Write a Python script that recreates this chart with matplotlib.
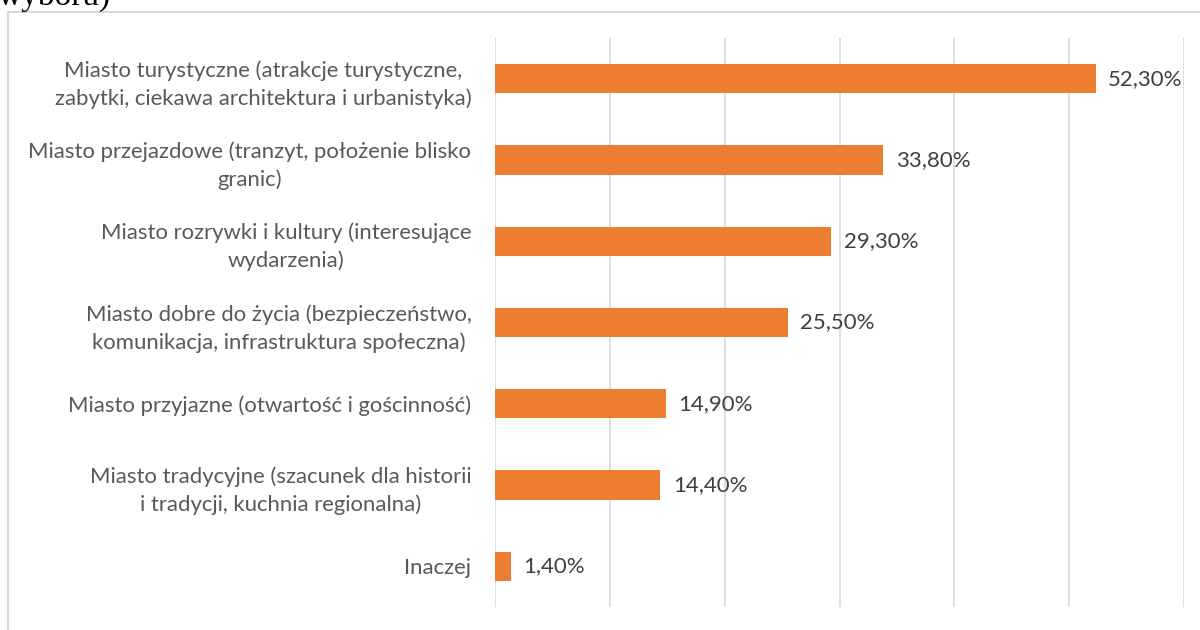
import matplotlib
matplotlib.use("Agg")
import matplotlib.pyplot as plt
from matplotlib.patches import Rectangle

categories = [
    "Miasto turystyczne (atrakcje turystyczne,\nzabytki, ciekawa architektura i urbanistyka)",
    "Miasto przejazdowe (tranzyt, położenie blisko\ngranic)",
    "Miasto rozrywki i kultury (interesujące\nwydarzenia)",
    "Miasto dobre do życia (bezpieczeństwo,\nkomunikacja, infrastruktura społeczna)",
    "Miasto przyjazne (otwartość i gościnność)",
    "Miasto tradycyjne (szacunek dla historii\ni tradycji, kuchnia regionalna)",
    "Inaczej",
]
values = [52.3, 33.8, 29.3, 25.5, 14.9, 14.4, 1.4]
value_labels = ["52,30%", "33,80%", "29,30%", "25,50%", "14,90%", "14,40%", "1,40%"]

FONT = ["Lato", "DejaVu Sans"]
TXT = "#595959"

fig = plt.figure(figsize=(12, 6.3), dpi=100)
fig.patch.set_facecolor("white")

# outer chart border
fig.add_artist(Rectangle((8 / 1200, -0.05), 1.2, 0.05 + (630 - 12) / 630,
                         transform=fig.transFigure, fill=False,
                         edgecolor="#d9d9d9", linewidth=1.5))
# cut-off caption text from the document above (cut off in the reference too)
fig.text(-0.002, 625 / 630, "wyboru)", family=["Liberation Serif"], fontsize=24,
         ha="left", va="baseline", color="black")

ax = fig.add_axes([495 / 1200, (630 - 607) / 630, (1184 - 495) / 1200, (607 - 38) / 630])
y = list(range(len(categories)))
ax.barh(y, values, height=0.36, color="#ED7D31", zorder=3)
ax.set_ylim(len(categories) - 0.5, -0.5)
ax.set_xlim(0, 60)
ax.set_xticks(range(0, 61, 10))
ax.set_xticklabels([])
ax.tick_params(axis="x", length=0)
ax.tick_params(axis="y", length=0, pad=17)
ax.set_yticks(y)
ax.set_yticklabels(categories, family=FONT, fontsize=15.9, color=TXT,
                   multialignment="center", linespacing=1.45)
ax.grid(axis="x", color="#d9d9d9", linewidth=1.2, zorder=0)
for s in ax.spines.values():
    s.set_visible(False)

for yi, v, lab in zip(y, values, value_labels):
    ax.annotate(lab, (v, yi), xytext=(9, 0), textcoords="offset points",
                va="center", ha="left", family=FONT, fontsize=16, color="#404040")

fig.savefig("out.png", dpi=100, facecolor="white")
